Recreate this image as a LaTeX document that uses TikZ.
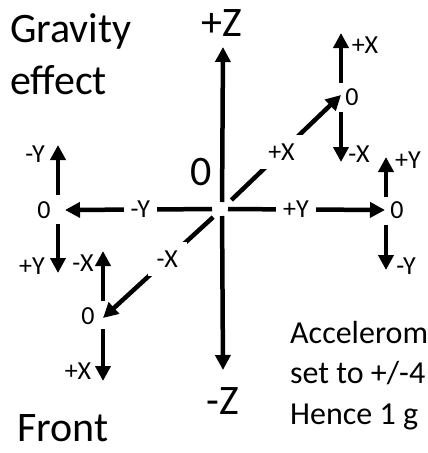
\documentclass[tikz,border=0pt]{standalone}
\usepackage{fontspec}
\setmainfont{Carlito}
\usetikzlibrary{arrows.meta}
\begin{document}
\begin{tikzpicture}[x=1pt,y=-1pt,
  arr/.style={line width=4.5pt,-{Triangle[length=15pt,width=15pt]}},
  big/.style={font=\fontsize{42}{50}\selectfont, inner sep=0pt},
  lab/.style={font=\fontsize{26}{30}\selectfont, inner sep=0pt},
  gaplab/.style={lab, fill=white, inner xsep=7pt, inner ysep=4pt},
  diaglab/.style={lab, fill=white, inner sep=9pt},
  note/.style={font=\fontsize{32}{41}\selectfont, inner sep=0pt, anchor=base west}]
\useasboundingbox (0,0) rectangle (428,453);
\clip (0,0) rectangle (428,453);
% main axes
\coordinate (c) at (222,209);
\coordinate (zt) at (223,47);
\coordinate (zb) at (223,370);
\coordinate (yl) at (65,210);
\coordinate (yr) at (385,210);
\coordinate (xu) at (341,95);
\coordinate (xd) at (103,318);
\draw[arr, shorten <=7pt] (c) -- (zt);
\draw[arr, shorten <=7pt] (c) -- (zb);
\draw[arr, shorten <=10pt] (c) -- node[gaplab, pos=0.52]{-Y} (yl);
\draw[arr, shorten <=6pt] (c) -- node[gaplab, pos=0.454]{+Y} (yr);
\draw[arr, shorten <=13pt] (c) -- node[diaglab, pos=0.5]{+X} (xu);
\draw[arr, shorten <=12pt] (c) -- node[diaglab, pos=0.46]{-X} (xd);
\node[big] (pz) at (222,23) {+Z};
\node[big] (mz) at (223,401) {-Z};
\node[big] (zc) at (201,172) {0};
% right (+Y) group
\node[lab] (r0) at (397,210) {0};
\coordinate (ru0) at (386,197); \coordinate (ru1) at (386,157);
\coordinate (rd0) at (386,225); \coordinate (rd1) at (386,270);
\draw[arr] (ru0) -- (ru1);
\draw[arr] (rd0) -- (rd1);
\node[lab] (rpy) at (408,160) {+Y};
\node[lab] (rmy) at (406,266) {-Y};
% top right (+X) group
\node[lab] (t0) at (352,97) {0};
\coordinate (tu0) at (341,83); \coordinate (tu1) at (341,33);
\coordinate (td0) at (341,112); \coordinate (td1) at (341,162);
\draw[arr] (tu0) -- (tu1);
\draw[arr] (td0) -- (td1);
\node[lab] (tpx) at (365,45) {+X};
\node[lab] (tmx) at (359,154) {-X};
% bottom left (-X) group
\node[lab] (b0) at (88,316) {0};
\coordinate (bu0) at (103,301); \coordinate (bu1) at (103,251);
\coordinate (bd0) at (103,329); \coordinate (bd1) at (103,381);
\draw[arr] (bu0) -- (bu1);
\draw[arr] (bd0) -- (bd1);
\node[lab] (bmx) at (83,263) {-X};
\node[lab] (bpx) at (78,371) {+X};
% left (-Y) group
\node[lab] (l0) at (44,210) {0};
\coordinate (lu0) at (58,195); \coordinate (lu1) at (58,145);
\coordinate (ld0) at (58,224); \coordinate (ld1) at (58,273);
\draw[arr] (lu0) -- (lu1);
\draw[arr] (ld0) -- (ld1);
\node[lab] (lmy) at (35,154) {-Y};
\node[lab] (lpy) at (32,266) {+Y};
% texts
\node[big, anchor=base west] (g1) at (10,42) {Gravity};
\node[big, anchor=base west] (g2) at (10,94) {effect};
\node[big, anchor=base west] (fr) at (17,441) {Front};
\node[note] (a1) at (290,343) {Accelerom};
\node[note] (a2) at (290,383) {set to +/-4};
\node[note] (a3) at (290,424) {Hence 1 g};
\end{tikzpicture}
\end{document}
